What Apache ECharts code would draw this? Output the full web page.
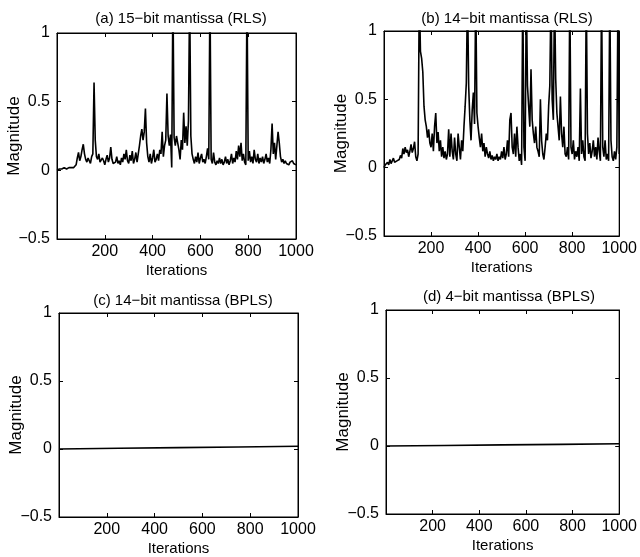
<!DOCTYPE html>
<html><head><meta charset="utf-8">
<script src="https://cdn.jsdelivr.net/npm/echarts@6/dist/echarts.min.js"></script>
<style>html,body{margin:0;padding:0;background:#fff}#c{width:640px;height:557px}</style>
</head><body><div id="c"></div>
<script>
// ---- data ----
const titles = ['(a) 15\u2212bit mantissa (RLS)', '(b) 14\u2212bit mantissa (RLS)', '(c) 14\u2212bit mantissa (BPLS)', '(d) 4\u2212bit mantissa (BPLS)'];
const xTicks = [200, 400, 600, 800, 1000];
const yTicks = ['\u22120.5', '0', '0.5', '1'];
const step = 5; // iterations between samples in panels (a),(b)
const magA = [
 0.00,0.00,0.01,0.01,0.01,0.01,0.02,0.02,0.01,0.02,0.02,0.02,0.02,0.03,0.02,0.03,0.04,0.09,0.13,0.07,
 0.10,0.15,0.19,0.12,0.08,0.06,0.09,0.07,0.05,0.10,0.12,0.64,0.22,0.10,0.08,0.12,0.06,0.05,0.09,0.07,
 0.04,0.08,0.11,0.06,0.09,0.17,0.08,0.05,0.04,0.06,0.10,0.05,0.07,0.04,0.09,0.06,0.12,0.08,0.15,0.07,
 0.05,0.11,0.07,0.14,0.05,0.08,0.13,0.06,0.12,0.18,0.25,0.30,0.22,0.28,0.45,0.20,0.10,0.06,0.12,0.05,
 0.09,0.15,0.06,0.08,0.12,0.07,0.15,0.12,0.28,0.10,0.18,0.22,0.56,0.25,0.18,0.26,0.02,1.30,0.24,0.18,
 0.25,0.20,0.15,0.08,0.22,0.15,0.42,0.20,0.32,0.18,0.36,1.30,0.25,0.12,0.08,0.05,0.10,0.06,0.13,0.05,
 0.09,0.12,0.06,0.08,0.05,0.10,0.16,0.08,1.30,0.08,0.05,0.13,0.06,0.04,0.07,0.05,0.09,0.05,0.08,0.04,
 0.06,0.10,0.05,0.08,0.04,0.07,0.12,0.05,0.09,0.06,0.14,0.08,0.18,0.10,0.20,0.07,0.12,0.06,0.04,1.30,
 0.07,0.14,0.06,0.10,0.05,0.15,0.08,0.06,0.12,0.05,0.09,0.06,0.10,0.05,0.08,0.12,0.06,0.09,0.05,0.15,
 0.34,0.12,0.20,0.08,0.18,0.28,0.20,0.10,0.06,0.08,0.05,0.07,0.05,0.06,0.04,0.06,0.05,0.07,0.05,0.06,
 0.04
];
const magB = [
 0.00,0.02,0.01,0.04,0.02,0.06,0.03,0.05,0.07,0.04,0.03,0.05,0.04,0.06,0.09,0.07,0.14,0.10,0.15,0.11,
 0.13,0.08,0.12,0.17,0.11,0.14,0.19,0.08,0.05,0.10,1.30,0.85,0.80,0.70,0.45,0.35,0.30,0.22,0.28,0.18,
 0.15,0.25,0.12,0.30,0.40,0.18,0.26,0.12,0.20,0.08,0.15,0.07,0.12,0.06,0.10,0.28,0.08,0.25,0.12,0.06,
 0.22,0.10,0.05,0.25,0.15,0.06,0.20,0.12,0.30,0.45,0.62,1.30,0.60,0.35,0.20,0.42,0.55,0.32,1.30,0.40,
 0.30,0.22,0.15,0.25,0.12,0.18,0.08,0.15,0.10,0.07,0.12,0.06,0.09,0.05,0.08,0.06,0.10,0.05,0.08,0.06,
 0.12,0.07,0.15,0.06,0.10,0.20,0.08,0.35,0.40,0.15,0.10,0.25,0.08,0.30,0.15,0.05,0.10,0.02,1.30,0.15,
 0.05,1.30,0.60,0.45,0.30,0.72,0.35,0.25,0.18,0.30,0.15,0.12,0.08,0.50,0.20,0.10,0.06,0.15,0.25,0.20,
 0.45,0.60,1.30,0.50,0.35,1.30,0.65,0.40,0.30,0.20,0.52,0.25,0.15,0.30,0.10,0.08,0.15,0.06,1.30,0.15,
 0.10,0.20,0.06,0.12,0.08,0.15,0.05,0.58,0.10,0.20,0.08,0.05,1.30,0.25,0.10,0.18,0.07,0.12,0.20,0.08,
 0.15,0.06,0.22,0.12,0.05,1.30,0.15,0.08,0.20,0.06,0.10,0.05,1.30,0.20,0.08,0.05,0.12,0.06,0.15,1.30,
 0.10
];
const iterFlat = [0, 250, 500, 750, 1000];
const magC = [0.000, 0.005, 0.010, 0.015, 0.020];
const magD = [0.000, 0.004, 0.008, 0.012, 0.016];

// ---- layout ----
const grids = [
  {left: 57, top: 33, width: 239, height: 206},
  {left: 384, top: 31, width: 238, height: 205},
  {left: 59, top: 313, width: 239, height: 206},
  {left: 386, top: 310, width: 238, height: 204}
];
const titlePos = [[176, 6], [502, 6], [178, 288], [504, 284]];
const FONT = 'Liberation Sans, Arial, Helvetica, sans-serif';

const pairs = (xs, ys) => ys.map((v, i) => [xs[i], v]);
const stepped = ys => ys.map((v, i) => [i * step, v]);
const seriesData = [stepped(magA), stepped(magB), pairs(iterFlat, magC), pairs(iterFlat, magD)];

const yLabel = v => {
  const idx = Math.round((v + 0.5) / 0.5);
  return yTicks[idx] !== undefined ? yTicks[idx] : '';
};
const xLabel = v => (xTicks.indexOf(v) >= 0 ? String(v) : '');

const option = {
  animation: false,
  backgroundColor: '#fff',
  textStyle: {fontFamily: FONT, color: '#000'},
  title: titles.map((t, i) => ({
    text: t, left: titlePos[i][0], top: titlePos[i][1], textAlign: 'center',
    textStyle: {fontFamily: FONT, fontSize: 15, fontWeight: 'normal', color: '#000'}
  })),
  grid: grids.map(g => Object.assign({show: true, borderColor: '#000', borderWidth: 1, backgroundColor: 'transparent'}, g)),
  xAxis: [],
  yAxis: [],
  series: []
};

grids.forEach((g, i) => {
  const tickStyle = {show: true, inside: true, length: 4, lineStyle: {color: '#000', width: 1}};
  option.xAxis.push({
    type: 'value', gridIndex: i, min: 0, max: 1000, interval: 200, position: 'bottom',
    name: 'Iterations', nameLocation: 'middle', nameGap: 24, nameMoveOverlap: false,
    nameTextStyle: {fontFamily: FONT, fontSize: 15, color: '#000'},
    axisLine: {show: true, onZero: false, lineStyle: {color: '#000', width: 1}},
    axisTick: tickStyle, splitLine: {show: false},
    axisLabel: {fontFamily: FONT, fontSize: 16, color: '#000', margin: 5, formatter: xLabel, showMinLabel: true}
  });
  option.xAxis.push({
    type: 'value', gridIndex: i, min: 0, max: 1000, interval: 200, position: 'top',
    axisLine: {show: true, onZero: false, lineStyle: {color: '#000', width: 1}},
    axisTick: tickStyle, axisLabel: {show: false}, splitLine: {show: false}
  });
  option.yAxis.push({
    type: 'value', gridIndex: i, min: -0.5, max: 1, interval: 0.5, position: 'left',
    name: 'Magnitude', nameLocation: 'middle', nameGap: 34, nameRotate: 90, nameMoveOverlap: false,
    nameTextStyle: {fontFamily: FONT, fontSize: 17, color: '#000'},
    axisLine: {show: true, onZero: false, lineStyle: {color: '#000', width: 1}},
    axisTick: tickStyle, splitLine: {show: false},
    axisLabel: {fontFamily: FONT, fontSize: 16, color: '#000', margin: 7, formatter: yLabel}
  });
  option.yAxis.push({
    type: 'value', gridIndex: i, min: -0.5, max: 1, interval: 0.5, position: 'right',
    axisLine: {show: true, onZero: false, lineStyle: {color: '#000', width: 1}},
    axisTick: tickStyle, axisLabel: {show: false}, splitLine: {show: false}
  });
  option.series.push({
    type: 'line', xAxisIndex: i * 2, yAxisIndex: i * 2, data: seriesData[i],
    showSymbol: false, symbol: 'none', clip: true,
    lineStyle: {color: '#000', width: 1.6}, silent: true
  });
});

const chart = echarts.init(document.getElementById('c'), null, {renderer: 'canvas'});
chart.setOption(option);
</script>
</body></html>
